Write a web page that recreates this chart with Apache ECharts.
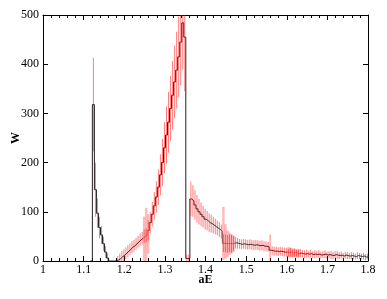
<!DOCTYPE html>
<html>
<head>
<meta charset="utf-8">
<script src="https://cdn.jsdelivr.net/npm/echarts@6/dist/echarts.min.js"></script>
<style>
  html, body { margin: 0; padding: 0; background: #fff; }
  #chart { width: 387px; height: 299px; }
</style>
</head>
<body>
<div id="chart"></div>
<script>
// histogram bins: left edge of first bin and bin width
const binStart = 1.1165
const binWidth = 0.005

// counts per bin (W)
const counts = [
  0,
  318, 145, 97, 68, 53, 35, 18, 6,
  0, 0, 0, 0,
  2, 5, 9, 12, 16, 20, 24, 28, 31, 35, 39, 43, 46, 50, 52,
  62, 78, 95, 112, 130, 150, 175, 200, 230, 256, 282, 310, 337, 364, 388, 415, 445, 484, 455,
  5, 5,
  126, 122, 114, 106, 100, 95, 90, 85, 82, 78, 76, 73, 70, 67, 64, 60,
  36, 36, 35, 36, 35, 36, 37, 36, 35, 34, 35, 34, 33, 34, 33, 32, 33, 32, 31, 32, 30, 30, 29,
  22, 21, 20, 20, 19, 20, 19, 18, 18,
  17, 18, 16, 17, 16, 15, 16, 15, 14, 15, 14, 15, 13, 14, 13, 14, 12, 13, 14, 12,
  13, 12, 11, 13, 12, 11, 12, 10, 12, 11, 10, 11, 10, 9, 11, 10, 9, 10, 8, 9
]

// symmetric error per bin
const errors = [
  0,
  95, 55, 30, 22, 18, 14, 12, 10,
  0, 0, 0, 0,
  8, 10, 11, 12, 12, 12, 12, 12, 12, 12, 12, 13, 13, 14, 14,
  20, 22, 25, 28, 32, 36, 42, 48, 52, 58, 62, 66, 70, 74, 78, 82, 88, 95, 110,
  8, 8,
  35, 32, 30, 28, 26, 24, 22, 21, 20, 19, 18, 17, 16, 15, 15, 14,
  18, 18, 18, 18, 18, 15, 12, 11, 10, 10, 10, 10, 10, 10, 10, 10, 10, 10, 10, 10, 10, 10, 10,
  32, 9, 9, 9, 9, 9, 9, 9, 9,
  8, 9, 8, 8, 7, 8, 8, 7, 8, 8, 7, 8, 7, 8, 7, 8, 7, 7, 8, 7,
  7, 8, 7, 7, 8, 7, 7, 6, 7, 7, 6, 7, 7, 6, 7, 6, 6, 7, 6, 6
]

// wide light error bands (x, low, high)
const pinkX  = [1.249, 1.254, 1.259, 1.444, 1.449, 1.454, 1.459, 1.464, 1.469, 1.604, 1.609, 1.614, 1.619, 1.624, 1.629]
const pinkLo = [0, 0, 15, 2, 5, 8, 12, 15, 18, 8, 8, 9, 8, 7, 8]
const pinkHi = [90, 108, 95, 110, 75, 62, 58, 55, 52, 28, 27, 26, 25, 24, 24]

const xTicks = [1, 1.1, 1.2, 1.3, 1.4, 1.5, 1.6, 1.7, 1.8]

const FONT = "'Liberation Serif', 'DejaVu Serif', serif"

const stepData = counts.map((c, i) => [binStart + i * binWidth, c])
stepData.push([binStart + counts.length * binWidth, counts[counts.length - 1]])

const errData = counts.map((c, i) => [binStart + (i + 0.5) * binWidth, c, errors[i]])
  .filter(d => d[2] > 0)
const pinkData = pinkX.map((x, i) => [x, pinkLo[i], pinkHi[i]])

const chart = echarts.init(document.getElementById('chart'), null, { renderer: 'canvas' })

const clampY = v => Math.max(0, Math.min(500, v))

const axisCommon = {
  axisLine: { show: true, onZero: false, lineStyle: { color: '#000', width: 1 } },
  axisTick: { show: true, inside: true, length: 5, lineStyle: { color: '#000' } },
  splitLine: { show: false },
}

chart.setOption({
  animation: false,
  textStyle: { fontFamily: FONT },
  grid: { left: 43, right: 19, top: 15, bottom: 38, containLabel: false, outerBoundsMode: 'none' },
  xAxis: [{
    ...axisCommon,
    type: 'value', min: 1, max: 1.8, interval: 0.1, position: 'bottom',
    minorTick: { show: true, splitNumber: 5, length: 3, lineStyle: { color: '#000' } },
    axisLabel: { color: '#000', fontSize: 12, margin: 3, fontFamily: FONT,
      formatter: v => { const t = xTicks.find(x => Math.abs(x - v) < 1e-6); return t === undefined ? '' : String(t) } },
    name: 'aE', nameLocation: 'middle', nameGap: 13, nameMoveOverlap: false,
    nameTextStyle: { color: '#000', fontSize: 12, fontWeight: 'bold', fontFamily: FONT },
  }, {
    ...axisCommon,
    type: 'value', min: 1, max: 1.8, interval: 0.1, position: 'top',
    minorTick: { show: true, splitNumber: 5, length: 3, lineStyle: { color: '#000' } },
    axisLabel: { show: false },
  }],
  yAxis: [{
    ...axisCommon,
    type: 'value', min: 0, max: 500, interval: 100, position: 'left',
    axisLabel: { color: '#000', fontSize: 12, margin: 4, fontFamily: FONT },
    name: 'W', nameLocation: 'middle', nameGap: 21, nameMoveOverlap: false,
    nameTextStyle: { color: '#000', fontSize: 12, fontWeight: 'bold', fontFamily: FONT },
  }, {
    ...axisCommon,
    type: 'value', min: 0, max: 500, interval: 100, position: 'right',
    axisLabel: { show: false },
  }],
  series: [{
    type: 'line',
    step: 'end',
    data: stepData,
    symbol: 'none',
    lineStyle: { color: '#222', width: 1 },
    z: 2,
  }, {
    type: 'custom',
    data: pinkData,
    z: 3,
    renderItem: (params, api) => {
      const top = api.coord([api.value(0), clampY(api.value(2))])
      const bot = api.coord([api.value(0), clampY(api.value(1))])
      return {
        type: 'line',
        shape: { x1: top[0], y1: top[1], x2: bot[0], y2: bot[1] },
        style: { stroke: 'rgba(255,140,140,0.6)', lineWidth: 2.5 },
      }
    },
  }, {
    type: 'custom',
    data: errData,
    z: 4,
    renderItem: (params, api) => {
      const x = api.value(0), y = api.value(1), e = api.value(2)
      const top = api.coord([x, clampY(y + e)])
      const bot = api.coord([x, clampY(y - e)])
      return {
        type: 'line',
        shape: { x1: top[0], y1: top[1], x2: bot[0], y2: bot[1] },
        style: { stroke: 'rgba(255,20,20,0.7)', lineWidth: 0.8 },
      }
    },
  }],
})
</script>
</body>
</html>
